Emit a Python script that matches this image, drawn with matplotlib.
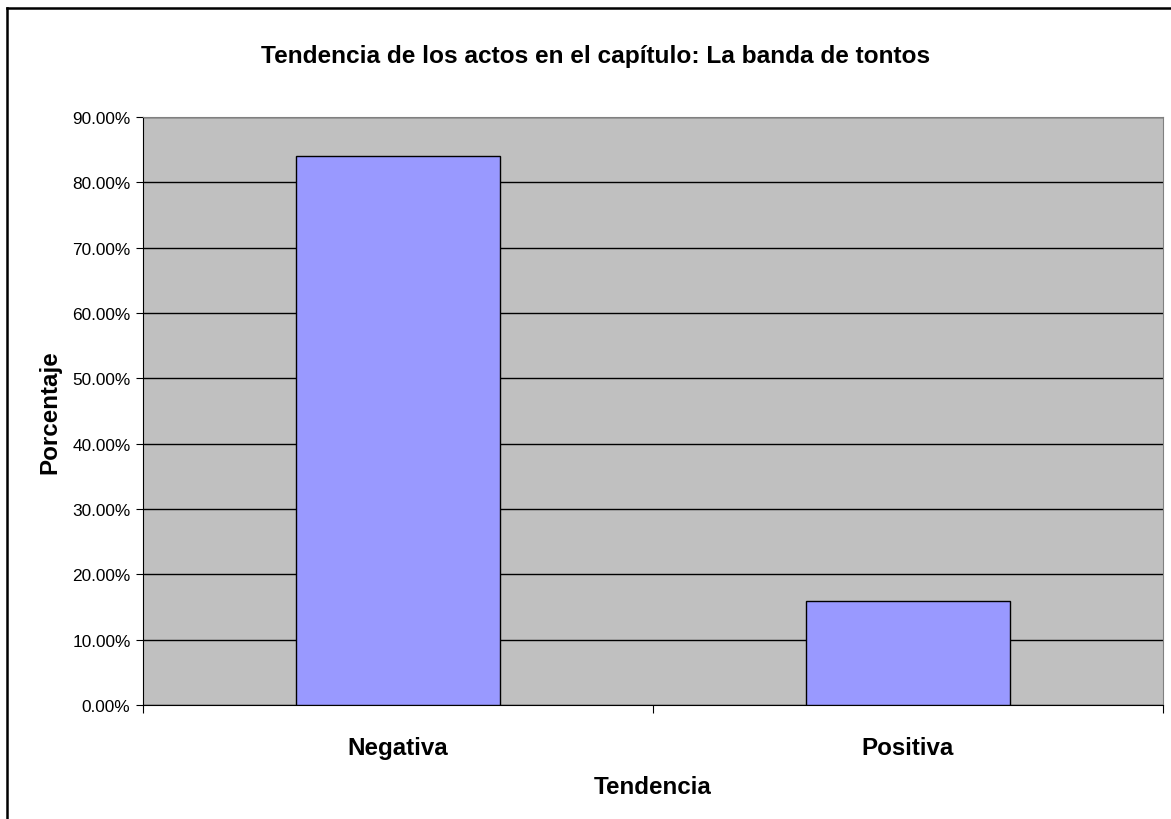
import matplotlib.pyplot as plt
from matplotlib.lines import Line2D
from matplotlib.ticker import FuncFormatter

categorias = ["Negativa", "Positiva"]
porcentajes = [84.1, 15.9]
ticks_y = [0, 10, 20, 30, 40, 50, 60, 70, 80, 90]

plt.rcParams['font.family'] = ['Liberation Sans', 'DejaVu Sans']

fig = plt.figure(figsize=(11.71, 8.2), dpi=100)
ax = fig.add_axes([143/1171, 1-706/820, (1163-143)/1171, (706-118)/820])
ax.set_facecolor('#C0C0C0')

pos = list(range(len(categorias)))
ax.bar(pos, porcentajes, width=0.4, color='#9999FF', edgecolor='black', linewidth=1, zorder=3)

ax.set_xlim(-0.5, len(categorias) - 0.5)
ax.set_ylim(0, 90)
ax.set_yticks(ticks_y)
ax.yaxis.set_major_formatter(FuncFormatter(lambda v, p: '%.2f%%' % v))
ax.grid(axis='y', color='black', linewidth=1, zorder=1)
ax.tick_params(axis='y', direction='out', length=5, labelsize=12.4, pad=4)

# marcas entre categorias y etiquetas centradas
ax.set_xticks([i - 0.5 for i in range(len(categorias) + 1)])
ax.set_xticklabels([])
ax.set_xticks(pos, minor=True)
ax.set_xticklabels(categorias, minor=True, fontsize=17.4, fontweight='bold')
ax.tick_params(axis='x', which='major', direction='out', length=6)
ax.tick_params(axis='x', which='minor', length=0, pad=22)

for s in ['right', 'top']:
    ax.spines[s].set_color('#808080')
ax.spines['left'].set_color('black')
ax.spines['bottom'].set_color('black')

fig.text(596/1171, 1-56/820, 'Tendencia de los actos en el capítulo: La banda de tontos',
         fontsize=17.6, fontweight='bold', ha='center', va='center')
ax.set_xlabel('Tendencia', fontsize=17.4, fontweight='bold', labelpad=12)
ax.set_ylabel('Porcentaje', fontsize=17.4, fontweight='bold', labelpad=8)

# borde del grafico
fig.add_artist(Line2D([7/1171, 7/1171], [0, 1-9/820], color='black', linewidth=1.8))
fig.add_artist(Line2D([7/1171, 1], [1-9/820, 1-9/820], color='black', linewidth=1.8))

fig.savefig('out.png', dpi=100)
